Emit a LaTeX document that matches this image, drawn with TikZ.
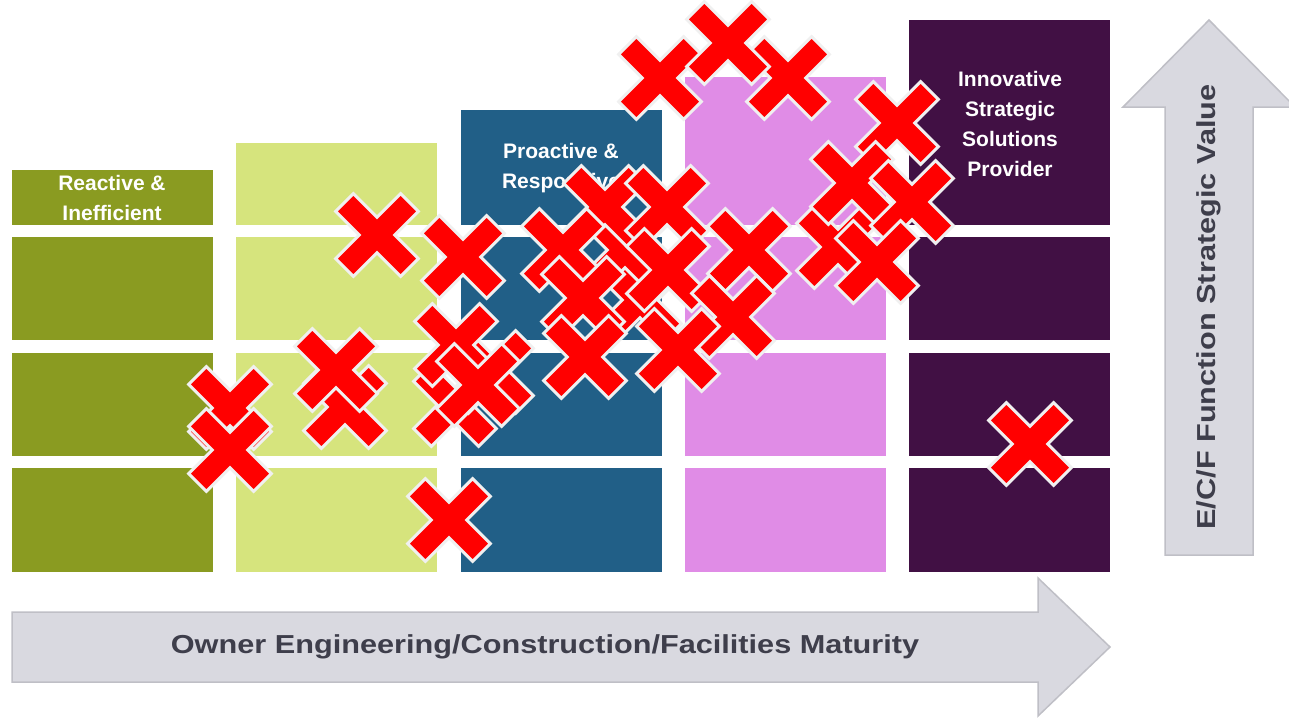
\documentclass[tikz,border=0pt]{standalone}
\usepackage{fontspec}
\setmainfont{Liberation Sans}
\newfontfamily\axisfont[FakeStretch=1.18]{Liberation Sans}
\usetikzlibrary{positioning}
\definecolor{olivecol}{HTML}{8A9B21}
\definecolor{limecol}{HTML}{D6E47D}
\definecolor{bluecol}{HTML}{215F87}
\definecolor{pinkcol}{HTML}{E08CE6}
\definecolor{plumcol}{HTML}{411044}
\definecolor{arrowfill}{HTML}{D9D9E0}
\definecolor{arrowedge}{HTML}{BFBFC6}
\definecolor{axisdark}{HTML}{3E3E4B}
\definecolor{crossedge}{HTML}{F0F0F0}
\begin{document}
\begin{tikzpicture}[
  x=1pt, y=-1pt,
  hdrtext/.style={text=white, font=\bfseries\fontsize{21}{30}\selectfont, align=center, inner sep=0},
  axistext/.style={text=axisdark, font=\axisfont\bfseries\fontsize{26}{30}\selectfont, inner sep=0},
  bigarrow/.style={fill=arrowfill, draw=arrowedge, line width=1.5},
  redcross/.pic={
    \filldraw[fill=red, draw=crossedge, line width=3, rotate=45]
      (12.5,46) -- (12.5,12.5) -- (46,12.5) -- (46,-12.5) -- (12.5,-12.5) -- (12.5,-46)
      -- (-12.5,-46) -- (-12.5,-12.5) -- (-46,-12.5) -- (-46,12.5) -- (-12.5,12.5) -- (-12.5,46) -- cycle;
  }
]
\useasboundingbox (0,0) rectangle (1289,718);

% Column 1: reactive
\fill[olivecol] (12,170) rectangle (213,225);
\fill[olivecol] (12,237) rectangle (213,340);
\fill[olivecol] (12,353) rectangle (213,456);
\fill[olivecol] (12,468) rectangle (213,572);

% Column 2
\fill[limecol] (236,143) rectangle (437,225);
\fill[limecol] (236,237) rectangle (437,340);
\fill[limecol] (236,353) rectangle (437,456);
\fill[limecol] (236,468) rectangle (437,572);

% Column 3: proactive
\fill[bluecol] (461,110) rectangle (662,225);
\fill[bluecol] (461,237) rectangle (662,340);
\fill[bluecol] (461,353) rectangle (662,456);
\fill[bluecol] (461,468) rectangle (662,572);

% Column 4
\fill[pinkcol] (685,77) rectangle (886,225);
\fill[pinkcol] (685,237) rectangle (886,340);
\fill[pinkcol] (685,353) rectangle (886,456);
\fill[pinkcol] (685,468) rectangle (886,572);

% Column 5: innovative
\fill[plumcol] (909,20) rectangle (1110,225);
\fill[plumcol] (909,237) rectangle (1110,340);
\fill[plumcol] (909,353) rectangle (1110,456);
\fill[plumcol] (909,468) rectangle (1110,572);

% Header labels
\node[hdrtext] (reactive) at (112,198) {Reactive \&\\Inefficient};
\node[hdrtext] (proactive) at (561,168) {Proactive \&\\Responsive};
\node[hdrtext] (innovative) at (1010,124) {Innovative\\Strategic\\Solutions\\Provider};

% Axis arrows
\draw[bigarrow] (12,612) -- (1038,612) -- (1038,578) -- (1110,647) -- (1038,716) -- (1038,682) -- (12,682) -- cycle;
\draw[bigarrow] (1165,555) -- (1165,107) -- (1123,107) -- (1209,20) -- (1295,107) -- (1253,107) -- (1253,555) -- cycle;
\node[axistext] (maturity) at (545,647) {Owner Engineering/Construction/Facilities Maturity};
\node[axistext, rotate=90] (value) at (1209,307) {E/C/F Function Strategic Value};

% Red crosses, left part
\pic at (377,235) {redcross};
\pic at (463,257) {redcross};
\pic at (230,408) {redcross};
\pic at (230,450) {redcross};
\pic at (345,407) {redcross};
\pic at (336,370) {redcross};
\pic at (455,405) {redcross};
\pic at (492,372) {redcross};
\pic at (456,345) {redcross};
\pic at (478,385) {redcross};
\pic at (449,520) {redcross};

% Red crosses, centre cluster
\pic at (640,300) {redcross};
\pic at (625,250) {redcross};
\pic at (605,207) {redcross};
\pic at (667,207) {redcross};
\pic at (563,250) {redcross};
\pic at (668,270) {redcross};
\pic at (583,298) {redcross};
\pic at (749,250) {redcross};
\pic at (733,317) {redcross};
\pic at (585,357) {redcross};
\pic at (678,350) {redcross};

% Red crosses, top and right
\pic at (660,78) {redcross};
\pic at (788,78) {redcross};
\pic at (728,43) {redcross};
\pic at (897,123) {redcross};
\pic at (838,247) {redcross};
\pic at (852,183) {redcross};
\pic at (912,202) {redcross};
\pic at (877,262) {redcross};
\pic at (1030,444) {redcross};

\end{tikzpicture}
\end{document}
